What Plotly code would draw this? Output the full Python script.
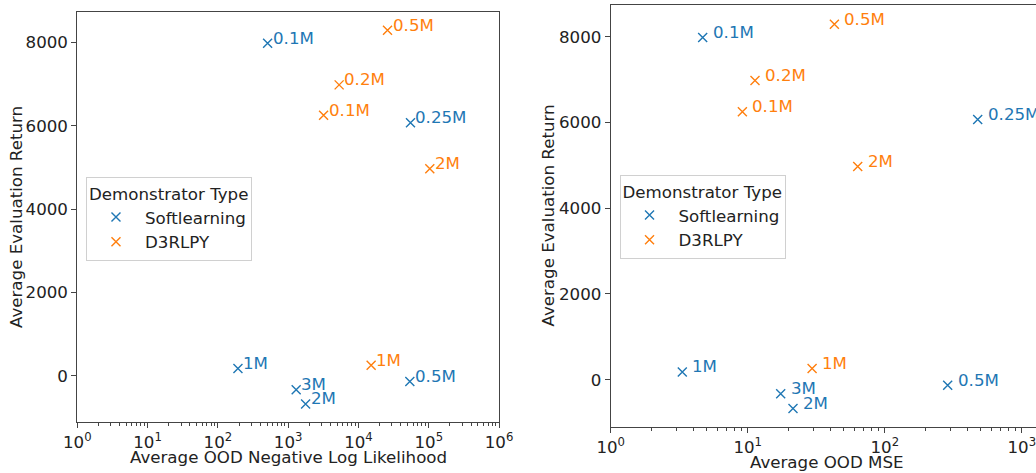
import numpy as np
import plotly.graph_objects as go

# Demonstrator checkpoints (label shown next to each point)
soft_labels = ["0.1M", "0.25M", "1M", "3M", "2M", "0.5M"]
d3_labels = ["0.5M", "0.2M", "0.1M", "2M", "1M"]

# Average evaluation return
soft_return = [7980, 6070, 180, -330, -670, -130]
d3_return = [8290, 6980, 6250, 4970, 260]

# Average OOD negative log likelihood
soft_nll = [510, 55000, 193, 1300, 1770, 53800]
d3_nll = [25900, 5310, 3190, 103500, 15150]

# Average OOD MSE
soft_mse = [4.69, 477, 3.33, 17.4, 21.4, 288]
d3_mse = [42.9, 11.3, 9.14, 63.5, 29.5]

BLUE = "#1f77b4"
ORANGE = "#ff7f0e"
FONT = "DejaVu Sans"
FS = 16.67
AXIS_COLOR = "#444444"
TEXT_COLOR = "#222222"
W, H = 1036, 473

left_decades = [0, 1, 2, 3, 4, 5, 6]
right_decades = [0, 1, 2, 3]
y_ticks = [0, 2000, 4000, 6000, 8000]


def decade_labels(decades):
    return [f"10<sup>{d}</sup>" for d in decades]


def minor_positions(decades, upper):
    vals = []
    for d in range(decades[0], int(np.ceil(upper)) + 1):
        for m in range(2, 10):
            v = m * 10.0 ** d
            if np.log10(v) <= upper:
                vals.append(v)
    return vals


fig = go.Figure()

series = [
    ("Softlearning", BLUE, soft_labels, soft_return, soft_nll, soft_mse),
    ("D3RLPY", ORANGE, d3_labels, d3_return, d3_nll, d3_mse),
]

for name, color, labels, ret, nll, mse in series:
    marker = dict(symbol="x-thin", size=9, line=dict(width=1.4, color=color), color=color)
    fig.add_trace(go.Scatter(
        x=nll, y=ret, mode="markers", name=name, marker=marker,
        xaxis="x", yaxis="y", legend="legend",
    ))
    fig.add_trace(go.Scatter(
        x=mse, y=ret, mode="markers", name=name, marker=marker,
        xaxis="x2", yaxis="y2", legend="legend2",
    ))
    for lab, xv, yv in zip(labels, nll, ret):
        fig.add_annotation(
            x=np.log10(xv), y=yv, xref="x", yref="y", text=lab, showarrow=False,
            xanchor="left", yanchor="middle", xshift=3, yshift=5,
            font=dict(family=FONT, size=FS, color=color),
        )
    for lab, xv, yv in zip(labels, mse, ret):
        fig.add_annotation(
            x=np.log10(xv), y=yv, xref="x2", yref="y2", text=lab, showarrow=False,
            xanchor="left", yanchor="middle", xshift=8, yshift=5,
            font=dict(family=FONT, size=FS, color=color),
        )

tick_font = dict(family=FONT, size=FS, color=TEXT_COLOR)
title_font = dict(family=FONT, size=FS, color=TEXT_COLOR)

# Axis titles, placed in paper coordinates
axis_titles = [
    ("Average OOD Negative Log Likelihood", 288, 457, 0),
    ("Average OOD MSE", 827, 462, 0),
    ("Average Evaluation Return", 16, 217, -90),
    ("Average Evaluation Return", 547.5, 216, -90),
]
for text, px, py, angle in axis_titles:
    fig.add_annotation(
        x=px / W, y=1 - py / H, xref="paper", yref="paper", text=text,
        showarrow=False, xanchor="center", yanchor="middle", textangle=angle,
        font=title_font,
    )

common_x = dict(
    type="log", showgrid=False, zeroline=False, automargin=False,
    showline=True, linecolor=AXIS_COLOR, linewidth=1,
    ticks="outside", ticklen=5, tickcolor=AXIS_COLOR,
    tickfont=tick_font, ticklabeloverflow="allow",
)
common_y = dict(
    showgrid=False, zeroline=False, automargin=False,
    showline=True, linecolor=AXIS_COLOR, linewidth=1,
    ticks="outside", ticklen=5, tickcolor=AXIS_COLOR,
    tickfont=tick_font, tickvals=y_ticks,
    ticktext=[str(v) for v in y_ticks],
)

legend_style = dict(
    title=dict(text="Demonstrator Type", font=dict(family=FONT, size=FS, color=TEXT_COLOR)),
    font=dict(family=FONT, size=FS, color=TEXT_COLOR),
    bgcolor="rgba(255,255,255,0.8)", bordercolor="#d0d0d0", borderwidth=1,
    xanchor="left", yanchor="top", itemwidth=48, tracegroupgap=0,
)

fig.update_layout(
    width=W, height=H,
    margin=dict(l=0, r=0, t=0, b=0),
    paper_bgcolor="white", plot_bgcolor="white",
    showlegend=True,
    xaxis=dict(
        **common_x, domain=[0.0746, 0.4817], range=[0, 6], anchor="y", mirror=True,
        tickvals=[10.0 ** d for d in left_decades], ticktext=decade_labels(left_decades),
        minor=dict(ticks="outside", ticklen=3, tickcolor=AXIS_COLOR,
                   tickvals=minor_positions(left_decades, 6)),
    ),
    yaxis=dict(
        **common_y, domain=[0.1072, 0.9746], range=[-1110, 8727], anchor="x", mirror=True,
    ),
    xaxis2=dict(
        **common_x, domain=[0.5895, 1.0], range=[0, 3.104], anchor="y2", mirror=True,
        tickvals=[10.0 ** d for d in right_decades], ticktext=decade_labels(right_decades),
        minor=dict(ticks="outside", ticklen=3, tickcolor=AXIS_COLOR,
                   tickvals=minor_positions(right_decades, 3.104)),
    ),
    yaxis2=dict(
        **common_y, domain=[0.0979, 0.9888], range=[-1096, 8732], anchor="x2", mirror=False,
    ),
    legend=dict(**legend_style, x=0.083, y=1 - 177 / H),
    legend2=dict(**legend_style, x=0.598, y=1 - 175 / H),
)

fig.write_html("out.html")
